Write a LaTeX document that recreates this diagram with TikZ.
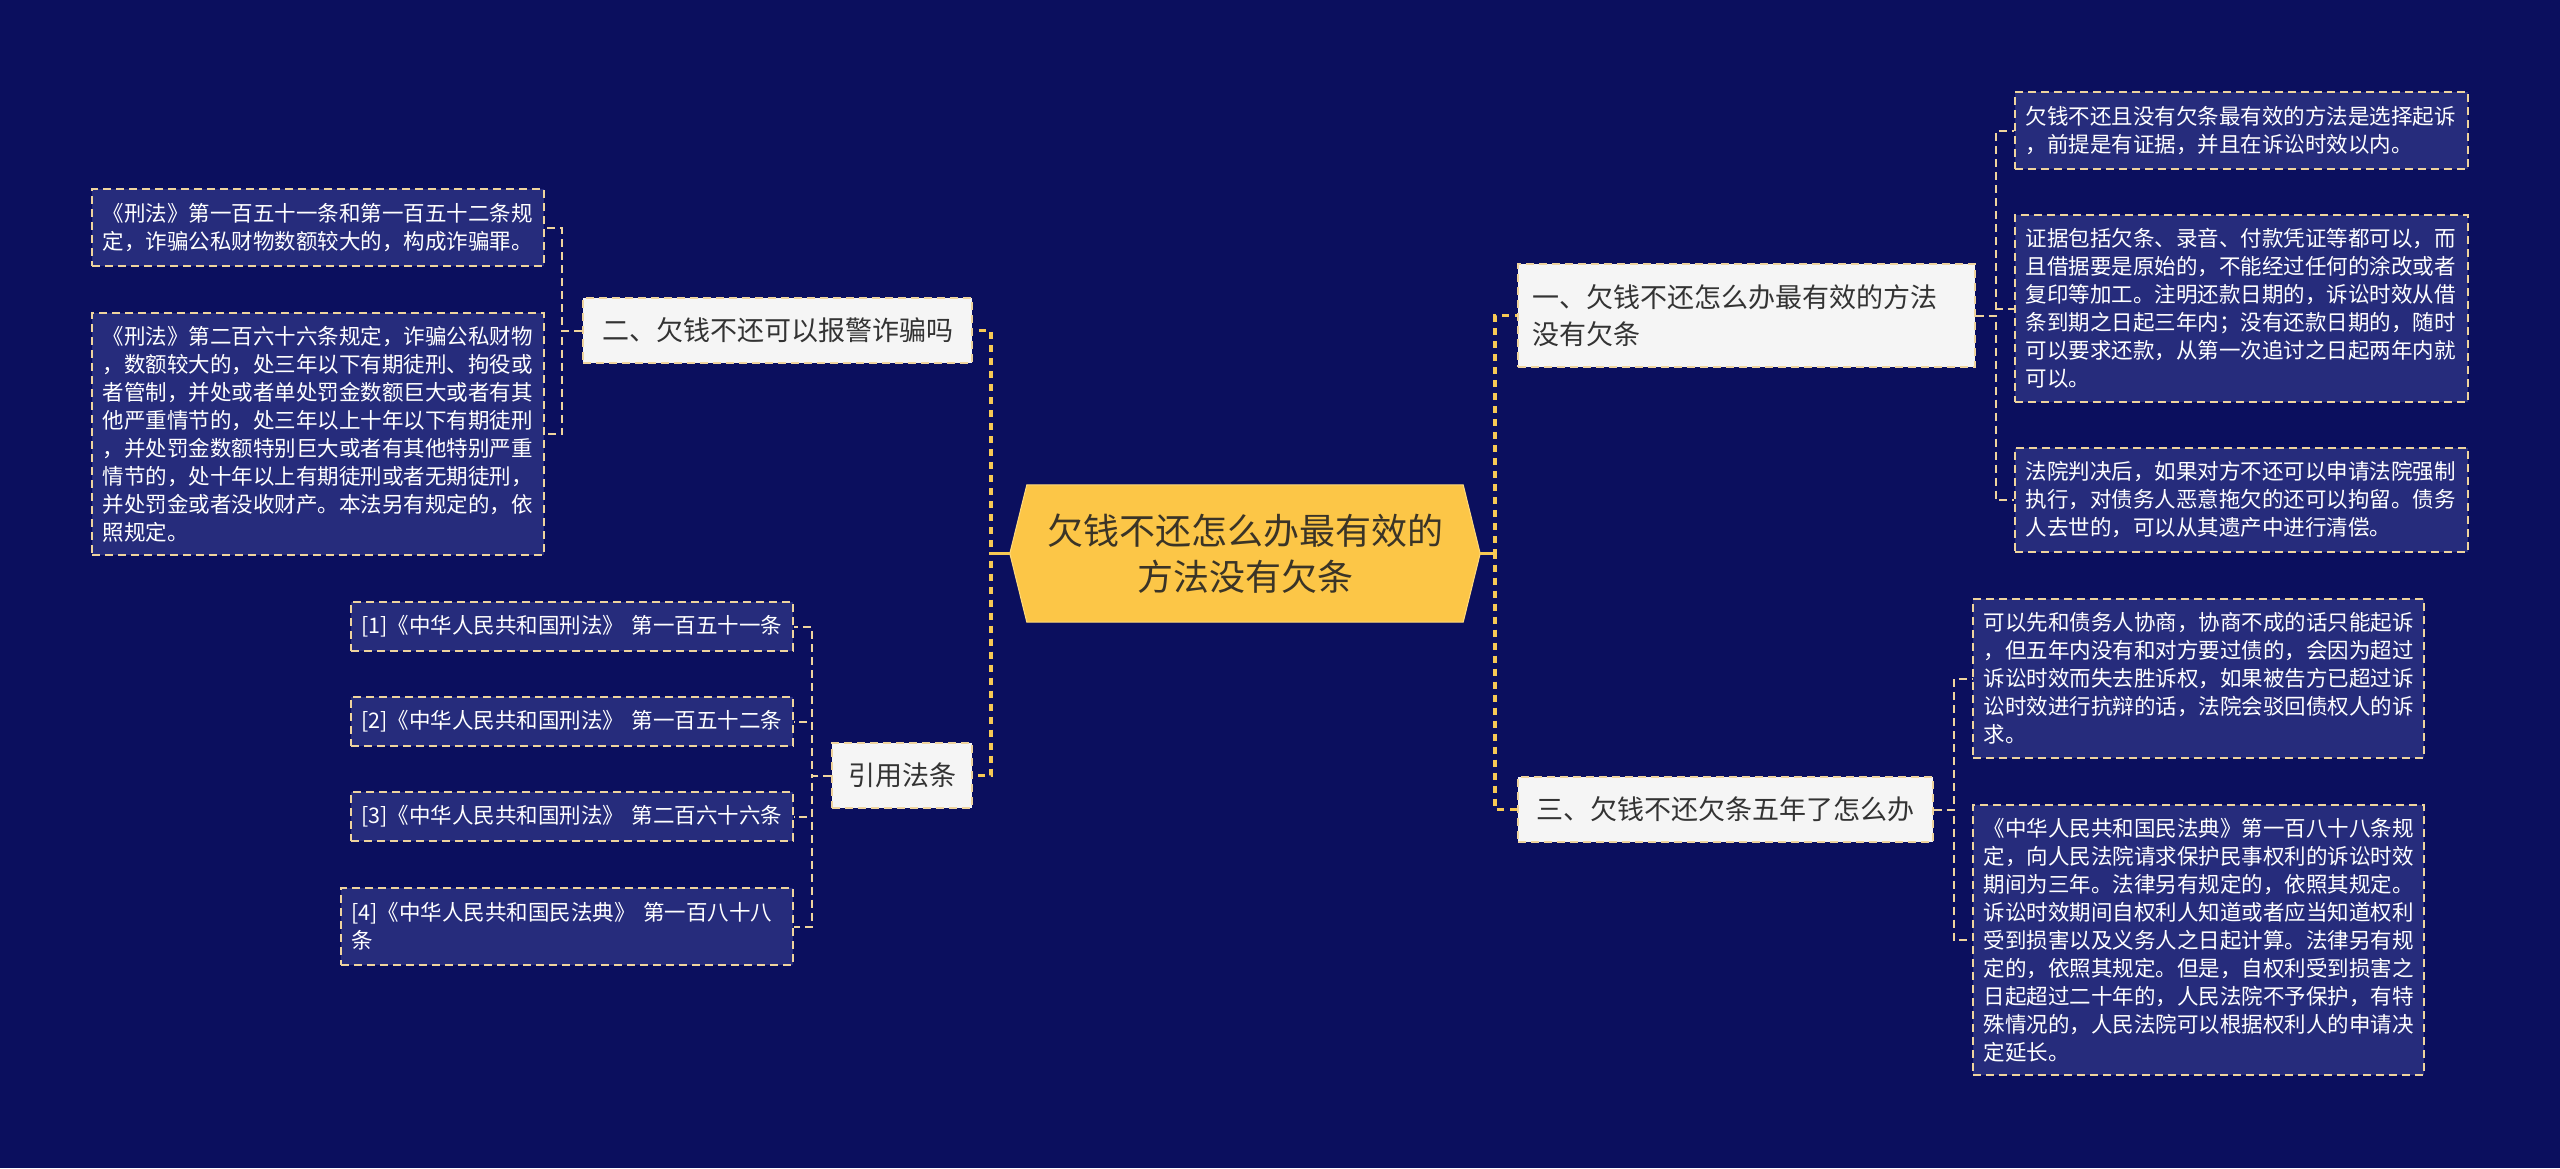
\documentclass[tikz,border=0pt]{standalone}
\usepackage{fontspec}
\setmainfont{Noto Sans CJK SC}
\pgfdeclarelayer{bg}
\pgfdeclarelayer{mid}
\pgfsetlayers{bg,mid,main}
\definecolor{bgc}{HTML}{0B0F5E}
\definecolor{leaffill}{HTML}{262C7C}
\definecolor{gold}{HTML}{EFD49E}
\definecolor{rootline}{HTML}{F7C954}
\definecolor{branchfill}{HTML}{F5F5F5}
\definecolor{rootfill}{HTML}{FCC647}
\definecolor{rootedge}{HTML}{FFD97A}
\definecolor{darktext}{HTML}{333333}
\definecolor{roottext}{HTML}{3A3427}
\tikzset{
  conn/.style={draw=gold, line width=2pt, dash pattern=on 8pt off 5pt},
  rootconn/.style={draw=rootline, line width=3.5pt, dash pattern=on 7pt off 6pt},
  rootstub/.style={draw=rootline, line width=3pt},
  leaf/.style={draw=gold, fill=leaffill, line width=1.8pt, dash pattern=on 8pt off 5pt,
    text=white, font=\fontsize{21.5}{28}\selectfont, align=left,
    inner xsep=10.5pt, inner ysep=0pt},
  branch/.style={draw=gold, fill=branchfill, line width=1.8pt, dash pattern=on 8pt off 5pt,
    text=darktext, font=\fontsize{27}{37}\selectfont, align=left,
    inner xsep=14pt, inner ysep=0pt, minimum height=65pt},
  rootnode/.style={text=roottext, font=\fontsize{36}{46}\selectfont, align=center,
    minimum width=470pt, minimum height=137pt, inner sep=0pt},
}
\begin{document}
\begin{tikzpicture}[x=1pt,y=-1pt]
\begin{pgfonlayer}{bg}
\fill[bgc] (0,0) rectangle (2560,1168);
\end{pgfonlayer}
\useasboundingbox (0,0) rectangle (2560,1168);

% root
\node[rootnode] (root) at (1245,553.5) {欠钱不还怎么办最有效的\\方法没有欠条};
\begin{pgfonlayer}{mid}
\filldraw[fill=rootfill, draw=rootedge, line width=1pt]
  (root.west) -- ([xshift=17pt]root.north west) -- ([xshift=-17pt]root.north east)
  -- (root.east) -- ([xshift=-17pt]root.south east) -- ([xshift=17pt]root.south west) -- cycle;
\end{pgfonlayer}

% branches
\node[branch, minimum width=389pt] (b2) at (777.5,330.5) {二、欠钱不还可以报警诈骗吗};
\node[branch, minimum width=140pt] (bc) at (902,775.5) {引用法条};
\node[branch, minimum width=457pt, minimum height=103pt, text width=429pt] (b1) at (1746.5,315.5) {一、欠钱不还怎么办最有效的方法\\没有欠条};
\node[branch, minimum width=415pt] (b3) at (1725.5,809.5) {三、欠钱不还欠条五年了怎么办};

% left leaves
\node[leaf, minimum width=452pt, minimum height=77pt, text width=431pt] (l1) at (318,227.5)
 {《刑法》第一百五十一条和第一百五十二条规\\定，诈骗公私财物数额较大的，构成诈骗罪。};
\node[leaf, minimum width=452pt, minimum height=242pt, text width=431pt] (l2) at (318,434)
 {《刑法》第二百六十六条规定，诈骗公私财物\\，数额较大的，处三年以下有期徒刑、拘役或\\者管制，并处或者单处罚金数额巨大或者有其\\他严重情节的，处三年以上十年以下有期徒刑\\，并处罚金数额特别巨大或者有其他特别严重\\情节的，处十年以上有期徒刑或者无期徒刑，\\并处罚金或者没收财产。本法另有规定的，依\\照规定。};

% citations
\node[leaf, minimum width=442pt, minimum height=49pt, text width=421pt] (c1) at (572,626.5)
 {[1]《中华人民共和国刑法》 第一百五十一条};
\node[leaf, minimum width=442pt, minimum height=49pt, text width=421pt] (c2) at (572,721.5)
 {[2]《中华人民共和国刑法》 第一百五十二条};
\node[leaf, minimum width=442pt, minimum height=49pt, text width=421pt] (c3) at (572,816.5)
 {[3]《中华人民共和国刑法》 第二百六十六条};
\node[leaf, minimum width=452pt, minimum height=77pt, text width=431pt] (c4) at (567,926.5)
 {[4]《中华人民共和国民法典》 第一百八十八\\条};

% right leaves
\node[leaf, minimum width=453pt, minimum height=77pt, text width=432pt] (r1) at (2241.5,130.5)
 {欠钱不还且没有欠条最有效的方法是选择起诉\\，前提是有证据，并且在诉讼时效以内。};
\node[leaf, minimum width=453pt, minimum height=187pt, text width=432pt] (r2) at (2241.5,308.5)
 {证据包括欠条、录音、付款凭证等都可以，而\\且借据要是原始的，不能经过任何的涂改或者\\复印等加工。注明还款日期的，诉讼时效从借\\条到期之日起三年内；没有还款日期的，随时\\可以要求还款，从第一次追讨之日起两年内就\\可以。};
\node[leaf, minimum width=453pt, minimum height=104pt, text width=432pt] (r3) at (2241.5,500)
 {法院判决后，如果对方不还可以申请法院强制\\执行，对债务人恶意拖欠的还可以拘留。债务\\人去世的，可以从其遗产中进行清偿。};
\node[leaf, minimum width=451pt, minimum height=159pt, text width=430pt] (r4) at (2198.5,678.5)
 {可以先和债务人协商，协商不成的话只能起诉\\，但五年内没有和对方要过债的，会因为超过\\诉讼时效而失去胜诉权，如果被告方已超过诉\\讼时效进行抗辩的话，法院会驳回债权人的诉\\求。};
\node[leaf, minimum width=451pt, minimum height=270pt, text width=430pt] (r5) at (2198.5,940)
 {《中华人民共和国民法典》第一百八十八条规\\定，向人民法院请求保护民事权利的诉讼时效\\期间为三年。法律另有规定的，依照其规定。\\诉讼时效期间自权利人知道或者应当知道权利\\受到损害以及义务人之日起计算。法律另有规\\定的，依照其规定。但是，自权利受到损害之\\日起超过二十年的，人民法院不予保护，有特\\殊情况的，人民法院可以根据权利人的申请决\\定延长。};

% connectors
\begin{pgfonlayer}{mid}
\draw[rootconn] (root.west) -- ++(-19,0) |- (b2.east);
\draw[rootconn] (root.west) -- ++(-19,0) |- (bc.east);
\draw[rootconn] (root.east) -- ++(15,0) |- (b1.west);
\draw[rootconn] (root.east) -- ++(15,0) |- (b3.west);
\draw[rootstub] (root.west) -- ++(-19,0);
\draw[rootstub] (root.east) -- ++(15,0);
\draw[conn] (b2.west) -- ++(-20,0) |- (l1.east);
\draw[conn] (b2.west) -- ++(-20,0) |- (l2.east);
\draw[conn] (bc.west) -- ++(-19,0) |- (c1.east);
\draw[conn] (bc.west) -- ++(-19,0) |- (c2.east);
\draw[conn] (bc.west) -- ++(-19,0) |- (c3.east);
\draw[conn] (bc.west) -- ++(-19,0) |- (c4.east);
\draw[conn] (b1.east) -- ++(20,0) |- (r1.west);
\draw[conn] (b1.east) -- ++(20,0) |- (r2.west);
\draw[conn] (b1.east) -- ++(20,0) |- (r3.west);
\draw[conn] (b3.east) -- ++(20,0) |- (r4.west);
\draw[conn] (b3.east) -- ++(20,0) |- (r5.west);
\end{pgfonlayer}
\end{tikzpicture}
\end{document}
